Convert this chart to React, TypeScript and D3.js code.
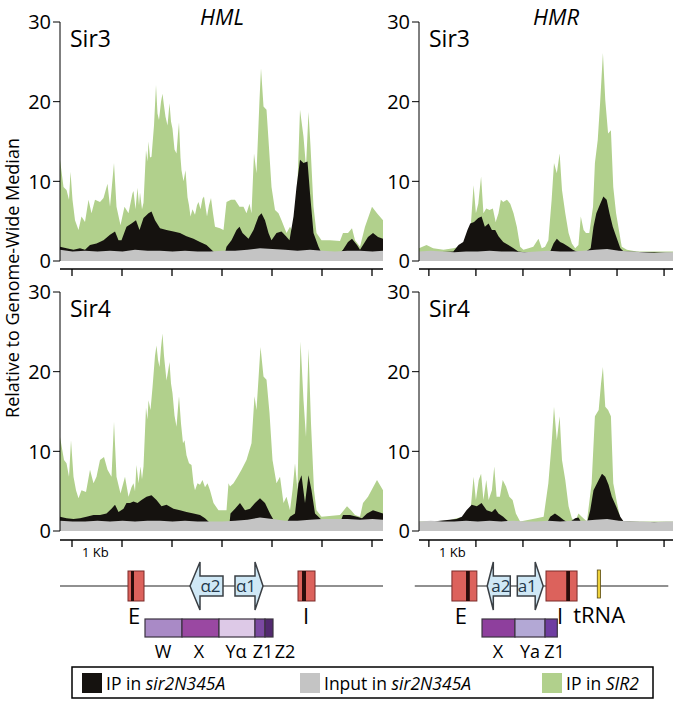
import React from 'react';
import * as d3 from 'd3';

type Pt = [number, number];

const FONT = '"Open Sans", "Noto Sans", sans-serif';

// colours
const GREEN = '#b1d08c';
const GRAY = '#c4c4c4';
const BLACK = '#15120f';
const RED = '#dc625c';

// y axis
const yTicks = [0, 10, 20, 30];

// x ticks (kb from left end of each window)
const hmlTickKb = [0.24, 1.24, 2.24, 3.24, 4.24, 5.24, 6.24];
const hmrTickKb = [0.21, 1.21, 2.21, 3.21, 4.21, 5.21];

// ---- HML Sir3 ----
const hmlSir3Green: Pt[] = [
  [0.0, 12.7], [0.07, 9.3], [0.13, 8.9], [0.18, 7.7], [0.21, 11.2], [0.25, 7.7], [0.3, 5.1], [0.37, 3.9], [0.43, 5.6], [0.5, 4.9],
  [0.57, 7.7], [0.63, 6.0], [0.7, 7.7], [0.8, 7.4], [0.87, 7.9], [0.95, 9.7], [1.0, 6.8], [1.08, 12.3], [1.13, 6.8], [1.21, 4.5],
  [1.29, 6.8], [1.37, 6.0], [1.45, 8.5], [1.47, 8.8], [1.51, 6.5], [1.55, 9.2], [1.58, 7.0], [1.6, 8.6], [1.64, 6.5], [1.67, 7.3],
  [1.72, 13.9], [1.75, 12.5], [1.77, 15.0], [1.8, 13.0], [1.83, 13.1], [1.88, 17.0], [1.92, 22.1], [1.95, 18.5], [1.98, 17.7], [2.02, 20.0],
  [2.05, 21.0], [2.08, 19.5], [2.11, 18.1], [2.15, 17.0], [2.19, 19.8], [2.22, 17.5], [2.25, 16.6], [2.29, 14.0], [2.33, 13.5], [2.36, 16.0],
  [2.38, 17.4], [2.41, 13.0], [2.43, 11.4], [2.47, 10.0], [2.51, 11.4], [2.55, 8.0], [2.58, 7.0], [2.61, 5.6], [2.65, 6.5], [2.7, 5.8],
  [2.74, 7.0], [2.77, 7.4], [2.81, 6.5], [2.85, 7.8], [2.88, 8.1], [2.91, 6.8], [2.94, 5.6], [2.98, 7.0], [3.02, 7.9], [3.06, 6.0],
  [3.1, 4.3], [3.2, 4.1], [3.27, 3.9], [3.33, 7.4],
  [3.42, 7.7], [3.5, 7.7], [3.59, 6.8], [3.67, 6.8], [3.73, 6.0], [3.79, 7.2], [3.83, 6.0], [3.88, 13.5], [3.93, 11.0], [3.99, 20.2],
  [4.02, 24.2], [4.07, 19.4], [4.13, 19.0], [4.17, 15.2], [4.23, 9.3], [4.3, 6.4], [4.37, 6.0], [4.43, 5.1], [4.53, 3.5], [4.6, 4.3],
  [4.67, 3.5], [4.73, 6.0], [4.8, 19.0], [4.87, 15.6], [4.92, 11.8], [4.97, 18.7], [5.01, 14.4], [5.07, 6.8], [5.13, 3.5], [5.23, 2.6],
  [5.4, 2.6], [5.6, 2.5], [5.66, 3.5], [5.76, 3.5], [5.84, 4.1], [5.9, 2.6], [6.0, 1.8], [6.1, 4.3], [6.24, 6.8], [6.34, 6.0], [6.46, 5.1],
];
const hmlSir3Black: Pt[] = [
  [0.0, 1.8], [0.13, 1.6], [0.27, 1.4], [0.4, 1.6], [0.5, 1.4], [0.6, 2.0], [0.73, 2.2], [0.87, 2.6], [1.0, 3.3], [1.1, 3.7],
  [1.17, 2.6], [1.23, 2.6], [1.33, 4.3], [1.43, 4.7], [1.52, 5.1], [1.59, 3.9], [1.67, 5.4], [1.77, 6.0], [1.83, 6.2], [1.9, 5.1],
  [2.0, 4.1], [2.13, 3.9], [2.27, 3.7], [2.4, 3.5], [2.53, 3.1], [2.67, 2.8], [2.8, 2.4], [2.93, 2.0], [3.03, 1.4], [3.1, 1.0],
  [3.3, 1.0], [3.33, 1.8], [3.43, 2.6], [3.53, 3.9], [3.59, 4.3], [3.65, 3.5], [3.77, 2.8], [3.87, 3.9], [3.97, 5.6], [4.03, 6.0],
  [4.1, 5.1], [4.17, 3.5], [4.23, 2.6], [4.33, 3.5], [4.43, 3.7], [4.52, 3.1], [4.59, 2.6], [4.67, 5.6], [4.73, 9.3], [4.8, 12.7],
  [4.87, 12.3], [4.95, 12.5], [5.0, 8.5], [5.07, 3.5], [5.17, 1.8], [5.23, 1.0], [5.6, 1.0], [5.66, 1.4], [5.76, 2.4], [5.84, 2.8],
  [5.94, 2.0], [6.0, 1.4], [6.06, 2.0], [6.16, 3.0], [6.26, 3.5], [6.36, 3.0], [6.46, 2.8],
];
const hmlSir3Gray: Pt[] = [
  [0, 1.4], [0.25, 1.2], [0.5, 1.3], [0.75, 1.2], [1, 1.3], [1.25, 1.2], [1.5, 1.4], [1.75, 1.3], [2, 1.3], [2.25, 1.2],
  [2.5, 1.3], [2.75, 1.2], [3, 1.2], [3.25, 1.3], [3.5, 1.3], [3.75, 1.4], [4, 1.6], [4.25, 1.5], [4.5, 1.4], [4.75, 1.3],
  [5, 1.4], [5.25, 1.3], [5.5, 1.2], [5.75, 1.3], [6, 1.3], [6.25, 1.2], [6.46, 1.3],
];

// ---- HML Sir4 ----
const hmlSir4Green: Pt[] = [
  [0.0, 11.8], [0.08, 8.9], [0.13, 8.5], [0.18, 6.8], [0.22, 11.4], [0.27, 6.8], [0.32, 5.1], [0.37, 4.1], [0.43, 5.1], [0.52, 4.9],
  [0.6, 7.7], [0.67, 6.0], [0.73, 6.8], [0.8, 8.9], [0.88, 9.3], [0.95, 7.7], [1.03, 6.8], [1.08, 13.7], [1.13, 6.8], [1.21, 4.7],
  [1.3, 6.8], [1.37, 4.3], [1.43, 5.5], [1.47, 6.0], [1.5, 5.0], [1.53, 8.3], [1.57, 6.0], [1.61, 8.1], [1.64, 6.5], [1.67, 8.1],
  [1.72, 15.5], [1.75, 14.0], [1.77, 16.4], [1.81, 15.2], [1.85, 18.0], [1.9, 22.0], [1.93, 23.3], [1.96, 21.5], [1.99, 20.6], [2.02, 23.0],
  [2.05, 24.8], [2.08, 22.0], [2.13, 18.9], [2.16, 20.0], [2.19, 21.2], [2.22, 18.5], [2.25, 17.3], [2.29, 14.5], [2.33, 13.1], [2.36, 15.5],
  [2.38, 16.9], [2.42, 13.5], [2.46, 11.0], [2.49, 11.4], [2.53, 9.5], [2.58, 8.5], [2.63, 8.3], [2.67, 6.0], [2.7, 5.1], [2.75, 6.0],
  [2.8, 5.8], [2.85, 6.4], [2.9, 5.5], [2.95, 6.0], [3.0, 5.1], [3.07, 3.5], [3.17, 2.6], [3.33, 2.6], [3.37, 6.0], [3.4, 5.6],
  [3.47, 6.0], [3.55, 6.8], [3.63, 7.7], [3.73, 8.9], [3.83, 11.0], [3.89, 16.9], [3.93, 15.2], [4.01, 23.1], [4.07, 19.4], [4.13, 19.0],
  [4.19, 14.8], [4.25, 8.9], [4.33, 6.0], [4.4, 6.8], [4.47, 3.5], [4.53, 4.3], [4.6, 2.6], [4.65, 5.1], [4.7, 8.5], [4.75, 5.1],
  [4.81, 23.8], [4.87, 16.4], [4.92, 11.8], [4.97, 22.9], [5.02, 13.5], [5.08, 5.1], [5.13, 2.6], [5.23, 1.8], [5.6, 2.0], [5.74, 3.1],
  [5.82, 2.6], [5.9, 2.0], [6.0, 1.8], [6.06, 3.5], [6.16, 4.3], [6.34, 6.4], [6.46, 5.1],
];
const hmlSir4Black: Pt[] = [
  [0.0, 1.8], [0.13, 1.6], [0.27, 1.5], [0.4, 1.6], [0.53, 1.8], [0.67, 2.0], [0.8, 2.0], [0.93, 2.2], [1.03, 2.8], [1.1, 3.3],
  [1.17, 2.4], [1.27, 2.8], [1.33, 3.5], [1.4, 3.5], [1.47, 3.7], [1.55, 3.5], [1.63, 3.9], [1.73, 4.3], [1.83, 4.5], [1.93, 3.9],
  [2.03, 3.1], [2.13, 3.3], [2.27, 2.8], [2.4, 2.6], [2.53, 2.4], [2.67, 2.2], [2.8, 2.0], [2.9, 1.6], [3.0, 1.0], [3.39, 1.0],
  [3.41, 2.2], [3.5, 2.8], [3.6, 3.5], [3.7, 2.6], [3.8, 2.8], [3.9, 3.5], [4.0, 4.1], [4.1, 3.5], [4.2, 2.2], [4.27, 1.4],
  [4.33, 1.0], [4.53, 1.0], [4.6, 1.8], [4.7, 2.2], [4.77, 6.0], [4.83, 7.0], [4.9, 3.5], [4.97, 7.0], [5.03, 5.1], [5.1, 2.2],
  [5.2, 1.6], [5.3, 1.0], [5.6, 1.0], [5.66, 2.0], [5.8, 2.0], [5.94, 1.8], [6.04, 1.6], [6.14, 2.2], [6.26, 2.6], [6.46, 2.2],
];
const hmlSir4Gray: Pt[] = [
  [0, 1.3], [0.25, 1.2], [0.5, 1.2], [0.75, 1.3], [1, 1.2], [1.25, 1.3], [1.5, 1.2], [1.75, 1.3], [2, 1.3], [2.25, 1.2],
  [2.5, 1.3], [2.75, 1.2], [3, 1.2], [3.25, 1.2], [3.5, 1.3], [3.75, 1.4], [4, 1.7], [4.25, 1.5], [4.5, 1.3], [4.75, 1.3],
  [5, 1.4], [5.25, 1.5], [5.5, 1.5], [5.75, 1.5], [6, 1.4], [6.25, 1.5], [6.46, 1.4],
];

// ---- HMR Sir3 ----
const hmrSir3Green: Pt[] = [
  [0.0, 1.6], [0.16, 2.0], [0.3, 1.6], [0.52, 1.4], [0.73, 1.6], [0.87, 1.8], [0.98, 2.6], [1.09, 3.5], [1.16, 9.5], [1.21, 6.0],
  [1.26, 7.2], [1.32, 10.6], [1.37, 6.0], [1.43, 6.6], [1.5, 6.4], [1.57, 6.6], [1.63, 4.9], [1.69, 6.0], [1.74, 7.7], [1.79, 7.4],
  [1.87, 7.7], [1.94, 7.2], [2.01, 6.0], [2.08, 4.3], [2.15, 1.8], [2.22, 1.4], [2.33, 1.6], [2.43, 1.8], [2.54, 2.8], [2.61, 1.6],
  [2.68, 1.8], [2.75, 2.6], [2.82, 7.7], [2.87, 12.3], [2.93, 11.0], [2.99, 13.5], [3.04, 8.9], [3.11, 6.0], [3.18, 3.5], [3.25, 2.2],
  [3.32, 1.6], [3.39, 2.0], [3.44, 5.6], [3.5, 3.9], [3.55, 3.5], [3.62, 3.5], [3.7, 6.8], [3.74, 12.3], [3.8, 15.2], [3.85, 19.8],
  [3.91, 26.1], [3.96, 20.2], [4.02, 16.0], [4.08, 16.4], [4.13, 9.3], [4.19, 6.0], [4.25, 3.9], [4.31, 1.8], [4.42, 1.4], [4.63, 1.2],
  [5.4, 1.2],
];
const hmrSir3Black: Pt[] = [
  [0.0, 1.0], [0.73, 1.2], [0.84, 2.0], [0.94, 2.4], [1.03, 3.9], [1.09, 4.7], [1.17, 4.9], [1.26, 5.4], [1.33, 5.6], [1.4, 4.3],
  [1.48, 4.7], [1.55, 3.9], [1.62, 3.9], [1.69, 3.1], [1.79, 2.4], [1.9, 2.0], [2.01, 1.6], [2.11, 1.2], [2.36, 1.0], [2.79, 1.2],
  [2.86, 2.2], [2.93, 2.8], [3.0, 2.4], [3.07, 2.2], [3.18, 1.8], [3.27, 1.4], [3.35, 1.2], [3.5, 1.0], [3.65, 1.6], [3.71, 4.3],
  [3.77, 6.0], [3.84, 7.0], [3.92, 8.1], [3.99, 7.7], [4.05, 6.0], [4.12, 4.3], [4.19, 3.1], [4.28, 1.6], [4.35, 1.2], [5.4, 1.0],
];
const hmrSir3Gray: Pt[] = [
  [0, 1.2], [0.25, 1.3], [0.5, 1.2], [0.75, 1.1], [1, 1.2], [1.25, 1.2], [1.5, 1.3], [1.75, 1.2], [2, 1.2], [2.25, 1.1],
  [2.5, 1.2], [2.75, 1.3], [3, 1.2], [3.25, 1.2], [3.5, 1.3], [3.75, 1.4], [4, 1.5], [4.25, 1.3], [4.5, 1.2], [4.75, 1.1],
  [5, 1.0], [5.25, 1.1], [5.4, 1.1],
];

// ---- HMR Sir4 ----
const hmrSir4Green: Pt[] = [
  [0.0, 1.2], [0.6, 1.3], [0.8, 1.6], [0.94, 1.8], [1.09, 2.2], [1.16, 6.8], [1.21, 3.9], [1.27, 6.4], [1.32, 7.2], [1.37, 3.9],
  [1.43, 6.4], [1.48, 3.9], [1.55, 5.1], [1.6, 8.1], [1.65, 4.3], [1.72, 4.3], [1.78, 6.4], [1.85, 5.6], [1.92, 4.3], [1.99, 3.9],
  [2.06, 2.2], [2.15, 1.2], [2.5, 1.6], [2.65, 1.8], [2.75, 6.0], [2.82, 11.0], [2.87, 15.6], [2.93, 11.4], [2.99, 14.4], [3.04, 8.9],
  [3.11, 6.4], [3.18, 3.1], [3.25, 1.6], [3.32, 1.2], [3.39, 2.2], [3.46, 1.8], [3.57, 1.2], [3.67, 6.0], [3.74, 14.4], [3.82, 15.2],
  [3.87, 18.5], [3.91, 20.6], [3.96, 15.6], [4.02, 15.2], [4.08, 14.4], [4.13, 6.0], [4.21, 3.5], [4.28, 1.6], [4.35, 1.2], [5.4, 1.2],
];
const hmrSir4Black: Pt[] = [
  [0.0, 1.0], [0.8, 1.5], [0.91, 1.8], [1.01, 2.6], [1.12, 3.3], [1.23, 3.1], [1.33, 3.5], [1.44, 2.6], [1.55, 2.4], [1.62, 2.8],
  [1.69, 2.2], [1.79, 1.8], [1.9, 1.2], [2.01, 1.0], [2.72, 1.0], [2.79, 1.8], [2.89, 2.2], [2.99, 1.8], [3.07, 1.4], [3.18, 1.0],
  [3.32, 1.6], [3.39, 1.7], [3.46, 1.0], [3.57, 1.0], [3.64, 2.6], [3.71, 5.1], [3.82, 6.4], [3.89, 7.2], [3.96, 6.8], [4.03, 5.8],
  [4.1, 4.3], [4.19, 3.1], [4.28, 1.8], [4.35, 1.2], [5.4, 1.0],
];
const hmrSir4Gray: Pt[] = [
  [0, 1.2], [0.25, 1.3], [0.5, 1.2], [0.75, 1.2], [1, 1.3], [1.25, 1.2], [1.5, 1.3], [1.75, 1.2], [2, 1.3], [2.25, 1.2],
  [2.5, 1.2], [2.75, 1.3], [3, 1.2], [3.25, 1.3], [3.5, 1.3], [3.75, 1.4], [4, 1.5], [4.25, 1.3], [4.5, 1.2], [4.75, 1.2],
  [5, 1.1], [5.25, 1.2], [5.4, 1.2],
];

// ---- locus maps (kb) ----
const hmlBoxes = [
  { label: 'E', start: 1.36, end: 1.68, bands: [1.42, 1.48], labelKb: 1.48 },
  { label: 'I', start: 4.76, end: 5.1, bands: [4.84, 4.92], labelKb: 4.92 },
];
const hmlArrows = [
  { label: 'α2', tip: 2.6, head: 2.8, tail: 3.26, dir: -1 },
  { label: 'α1', tip: 4.06, head: 3.9, tail: 3.5, dir: 1 },
];
const hmlSegments = [
  { label: 'W', start: 1.7, end: 2.44, color: '#a98ac6' },
  { label: 'X', start: 2.44, end: 3.18, color: '#9a48a2' },
  { label: 'Yα', start: 3.18, end: 3.9, color: '#ddc9e7' },
  { label: 'Z1', start: 3.9, end: 4.1, color: '#7b49a2' },
  { label: 'Z2', start: 4.1, end: 4.26, color: '#52296f' },
];
const hmlSegLabelKb = [2.06, 2.78, 3.52, 4.06, 4.5];

const hmrBoxes = [
  { label: 'E', start: 0.7, end: 1.23, bands: [1.0, 1.08], labelKb: 0.89 },
  { label: 'I', start: 2.7, end: 3.36, bands: [3.13, 3.21], labelKb: 3.0 },
];
const hmrArrows = [
  { label: 'a2', tip: 1.45, head: 1.58, tail: 1.94, dir: -1 },
  { label: 'a1', tip: 2.64, head: 2.47, tail: 2.09, dir: 1 },
];
const hmrSegments = [
  { label: 'X', start: 1.34, end: 2.04, color: '#8e3f9d' },
  { label: 'Ya', start: 2.04, end: 2.68, color: '#b3a8d5' },
  { label: 'Z1', start: 2.68, end: 2.94, color: '#6f3da1' },
];
const hmrSegLabelKb = [1.68, 2.36, 2.88];
const hmrTrna = { start: 3.79, end: 3.86, labelKb: 3.83 };

// ---- layout ----
const hmlX = d3.scaleLinear().domain([0, 6.46]).range([60, 383]);
const hmrX = d3.scaleLinear().domain([0, 5.4]).range([419, 673]);
const yTop = d3.scaleLinear().domain([0, 30]).range([261, 22]);
const yBot = d3.scaleLinear().domain([0, 30]).range([531, 292]);

function Track({ x, y, green, black, gray, label, axisY, kb }: any) {
  const area = d3.area<Pt>().x(d => x(d[0])).y0(y(0)).y1(d => y(d[1]));
  const [x0, x1] = x.range();
  const ticks = x === hmlX ? hmlTickKb : hmrTickKb;
  return (
    <g>
      <path d={area(green) || ''} fill={GREEN} />
      <path d={area(black) || ''} fill={BLACK} />
      <path d={area(gray) || ''} fill={GRAY} />
      <line x1={x0} x2={x0} y1={y(30)} y2={y(0)} stroke="#000" strokeWidth={1} />
      {yTicks.map(t => (
        <g key={t}>
          <line x1={x0 - 7} x2={x0} y1={y(t)} y2={y(t)} stroke="#000" strokeWidth={1} />
          <text x={x0 - 9} y={y(t)} dy="0.36em" textAnchor="end" fontSize={20} fontFamily={FONT}>{t}</text>
        </g>
      ))}
      <line x1={x0} x2={x1} y1={axisY} y2={axisY} stroke="#000" strokeWidth={1.3} />
      {ticks.map(t => (
        <line key={t} x1={x(t)} x2={x(t)} y1={axisY} y2={axisY + 7} stroke="#000" strokeWidth={1.3} />
      ))}
      <text x={x0 + 10} y={y(30) + 25} fontSize={23} fontFamily={FONT}>{label}</text>
      {kb && <text x={x(ticks[0]) + 10} y={axisY + 17} fontSize={13} fontFamily={FONT}>1 Kb</text>}
    </g>
  );
}

function Locus({ x, boxes, arrows, segments, segLabelKb, lineFrom, lineTo, trna }: any) {
  const lineY = 586;
  return (
    <g fontFamily={FONT}>
      <line x1={x(lineFrom)} x2={x(lineTo)} y1={lineY} y2={lineY} stroke="#222" strokeWidth={1.2} />
      {boxes.map((b: any) => (
        <g key={b.label}>
          <rect x={x(b.start)} y={571} width={x(b.end) - x(b.start)} height={30} fill={RED} stroke="#7a2a28" strokeWidth={1} />
          <rect x={x(b.bands[0])} y={571} width={x(b.bands[1]) - x(b.bands[0])} height={30} fill="#2a0d0b" />
          <text x={x(b.labelKb)} y={624} textAnchor="middle" fontSize={22}>{b.label}</text>
        </g>
      ))}
      {arrows.map((a: any) => {
        const xt = x(a.tip), xh = x(a.head), xb = x(a.tail);
        const d = `M${xt},${lineY} L${xh},${lineY - 24} L${xh},${lineY - 10} L${xb},${lineY - 10} L${xb},${lineY + 10} L${xh},${lineY + 10} L${xh},${lineY + 24} Z`;
        return (
          <g key={a.label}>
            <path d={d} fill="#cfe8f6" stroke="#3a3f44" strokeWidth={1.5} />
            <text x={(xh + xb) / 2 + a.dir * 1} y={lineY + 6} textAnchor="middle" fontSize={17} fill="#24384a">{a.label}</text>
          </g>
        );
      })}
      {segments.map((s: any, i: number) => (
        <g key={s.label}>
          <rect x={x(s.start)} y={619} width={x(s.end) - x(s.start)} height={18} fill={s.color} stroke="#3b3340" strokeWidth={1.2} />
          <text x={x(segLabelKb[i])} y={658} textAnchor="middle" fontSize={18}>{s.label}</text>
        </g>
      ))}
      {trna && (
        <g>
          <rect x={x(trna.start)} y={570} width={x(trna.end) - x(trna.start)} height={28} fill="#eed23c" stroke="#5a4a10" strokeWidth={0.8} />
          <text x={x(trna.labelKb)} y={623} textAnchor="middle" fontSize={22}>tRNA</text>
        </g>
      )}
    </g>
  );
}

function Legend() {
  const items = [
    { color: BLACK, pre: 'IP in ', it: 'sir2N345A', x: 82 },
    { color: GRAY, pre: 'Input in ', it: 'sir2N345A', x: 300 },
    { color: GREEN, pre: 'IP in ', it: 'SIR2', x: 542 },
  ];
  return (
    <g fontFamily={FONT}>
      <rect x={72} y={667} width={581} height={31} fill="#fff" stroke="#000" strokeWidth={1.5} />
      {items.map(d => (
        <g key={d.x}>
          <rect x={d.x} y={673} width={20} height={20} fill={d.color} />
          <text x={d.x + 24} y={690} fontSize={17.5}>
            {d.pre}<tspan fontStyle="italic">{d.it}</tspan>
          </text>
        </g>
      ))}
    </g>
  );
}

export default function App() {
  return (
    <svg width={677} height={701} style={{ position: 'absolute', left: 0, top: 0, background: '#fff' }}>
      <text x={222} y={25} textAnchor="middle" fontSize={22} fontStyle="italic" fontFamily={FONT}>HML</text>
      <text x={556} y={25} textAnchor="middle" fontSize={22} fontStyle="italic" fontFamily={FONT}>HMR</text>
      <text transform="translate(19,278) rotate(-90)" textAnchor="middle" fontSize={18} fontFamily={FONT}>
        Relative to Genome-Wide Median
      </text>

      <Track x={hmlX} y={yTop} green={hmlSir3Green} black={hmlSir3Black} gray={hmlSir3Gray} label="Sir3" axisY={269} />
      <Track x={hmrX} y={yTop} green={hmrSir3Green} black={hmrSir3Black} gray={hmrSir3Gray} label="Sir3" axisY={269} />
      <Track x={hmlX} y={yBot} green={hmlSir4Green} black={hmlSir4Black} gray={hmlSir4Gray} label="Sir4" axisY={540} kb />
      <Track x={hmrX} y={yBot} green={hmrSir4Green} black={hmrSir4Black} gray={hmrSir4Gray} label="Sir4" axisY={540} kb />

      <Locus x={hmlX} boxes={hmlBoxes} arrows={hmlArrows} segments={hmlSegments} segLabelKb={hmlSegLabelKb} lineFrom={0} lineTo={6.46} />
      <Locus x={hmrX} boxes={hmrBoxes} arrows={hmrArrows} segments={hmrSegments} segLabelKb={hmrSegLabelKb} lineFrom={-0.09} lineTo={5.3} trna={hmrTrna} />

      <Legend />
    </svg>
  );
}
